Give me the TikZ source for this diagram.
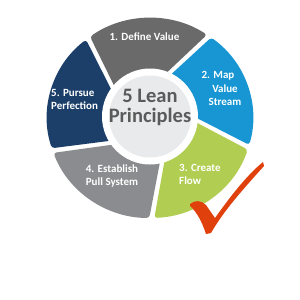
\documentclass[tikz,border=0pt]{standalone}
\usepackage{fontspec}
\setmainfont{Carlito}
\usetikzlibrary{positioning}
\definecolor{defgray}{HTML}{6A6A6A}
\definecolor{mapblue}{HTML}{1796D3}
\definecolor{flowgreen}{HTML}{B1CE52}
\definecolor{pullgray}{HTML}{8B8C90}
\definecolor{perfnavy}{HTML}{1B3F69}
\definecolor{hubgray}{HTML}{E8EAEB}
\definecolor{hubtext}{HTML}{5A5A5A}
\definecolor{tickred}{HTML}{E0400B}

\begin{document}
\begin{tikzpicture}[
  x=1pt, y=1pt,
  seglbl/.style={font=\fontsize{11}{13.5}\selectfont\bfseries, text=white, inner sep=0pt},
  hublbl/.style={font=\fontsize{20.5}{20}\selectfont\bfseries, text=hubtext, inner sep=0pt}
]
  \useasboundingbox (0,0) rectangle (300,-300);
  \fill[white] (0,0) rectangle (300,-300);

  % Ring segments
  \begin{scope}[shift={(150,-118)}, xscale=1.03, rounded corners=3pt]
    \foreach \a/\b/\col in {55/127/defgray, -17/55/mapblue, -89/-17/flowgreen,
                            -161/-89/pullgray, 127/199/perfnavy}
      \fill[\col] ({\a+1.4}:100pt) arc[start angle=\a+1.4, end angle=\b-1.4, radius=100pt]
        -- ({\b+12}:44pt) arc[start angle=\b+12, end angle=\a+18, radius=44pt] -- cycle;
  \end{scope}

  % Hub
  \fill[white] (150,-116.5) circle[radius=48pt];
  \fill[hubgray] (150,-116.5) circle[radius=41pt];
  \node[hublbl, anchor=base] (lean)  at (150,-102) {5 Lean};
  \node[hublbl, anchor=base] (princ) at ([yshift=-20pt]lean.base) {Principles};

  % Segment labels
  \node[seglbl, anchor=base] (define) at (144.5,-40) {1. Define Value};

  \node[seglbl, anchor=base] (map)    at (218,-78)  {2. Map};
  \node[seglbl, anchor=base] (value)  at (225,-92)  {Value};
  \node[seglbl, anchor=base] (stream) at (225,-105) {Stream};

  \node[seglbl, anchor=base west] (create) at (179,-171) {3. Create};
  \node[seglbl, anchor=base west] (flow)   at ([yshift=-13.5pt]create.base west) {Flow};

  \node[seglbl, anchor=base] (establish) at (112,-172) {4. Establish};
  \node[seglbl, anchor=base] (pull)      at ([yshift=-13.5pt]establish.base) {Pull System};

  \node[seglbl, anchor=base west] (pursue) at (51,-96) {5. Pursue};
  \node[seglbl, anchor=base west] (perf)   at ([yshift=-13.5pt]pursue.base west) {Perfection};

  % Check mark
  \fill[tickred] (190,-204) .. controls (195,-200) and (201,-200) .. (206,-205)
    -- (215,-218) .. controls (230,-197) and (246,-176) .. (263,-162)
    -- (264,-166) .. controls (246,-186) and (224,-210) .. (211,-233)
    -- (206,-234) .. controls (202,-222) and (197,-212) .. (190,-206) -- cycle;
\end{tikzpicture}
\end{document}
